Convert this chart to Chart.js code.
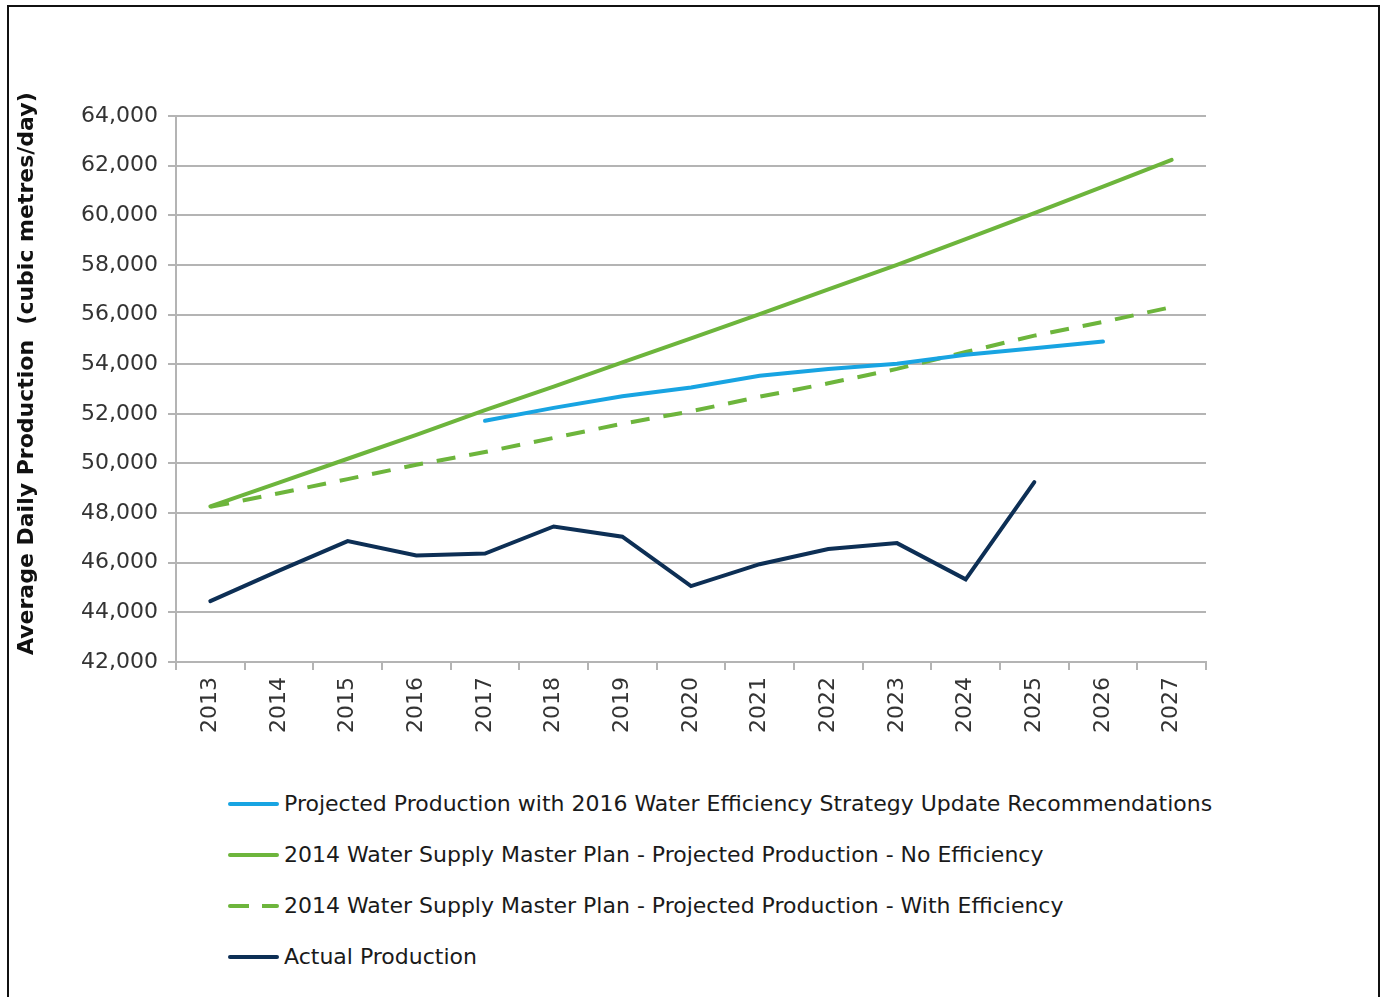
<!DOCTYPE html>
<html>
<head>
<meta charset="utf-8">
<script src="https://cdn.jsdelivr.net/npm/chart.js@4.4.1/dist/chart.umd.min.js"></script>
<style>
    body { margin: 0; background: #fff; overflow: hidden; }
    #frame { position: absolute; left: 7px; top: 5px; width: 1369px; height: 1100px; border: 2px solid #111; }
    #myChart { position: absolute; left: 0; top: 0; }
    #legend { position: absolute; left: 228px; top: 778px; font: 22px 'DejaVu Sans', sans-serif; color: #1a1a1a; }
    .legend-item { height: 51px; display: flex; align-items: center; white-space: nowrap; }
    .legend-line { width: 51px; height: 4px; border-radius: 2px; margin-right: 5px; }
</style>
</head>
<body>
<div id="frame"></div>
<canvas id="myChart" width="1382" height="770"></canvas>
<div id="legend"></div>
<script>
const years = ['2013', '2014', '2015', '2016', '2017', '2018', '2019', '2020', '2021', '2022', '2023', '2024', '2025', '2026', '2027']

const projected2016 = [null, null, null, null, 51720, 52240, 52710, 53060, 53530, 53810, 54020, 54380, 54640, 54910, null]
const noEfficiency = [48270, 49230, 50190, 51150, 52150, 53100, 54070, 55040, 56020, 57010, 58000, 59040, 60090, 61150, 62230]
const withEfficiency = [48250, 48800, 49370, 49950, 50460, 51030, 51600, 52100, 52690, 53230, 53810, 54490, 55150, 55700, 56300]
const actual = [44450, 45680, 46870, 46290, 46370, 47460, 47050, 45060, 45940, 46550, 46790, 45330, 49250, null, null]

const yTicks = { min: 42000, max: 64000, step: 2000 }

const blue = '#18a4e2'
const green = '#6db53c'
const navy = '#0d2f55'
const gridColor = '#b4b4b4'
const fontFamily = 'DejaVu Sans'

const ctx = document.getElementById('myChart')

const chart = new Chart(ctx, {
    type: 'line',
    data: {
        labels: years,
        datasets: [{
            label: 'Projected Production with 2016 Water Efficiency Strategy Update Recommendations',
            data: projected2016,
            borderColor: blue,
            borderWidth: 4,
            borderCapStyle: 'round'
        }, {
            label: '2014 Water Supply Master Plan - Projected Production - No Efficiency',
            data: noEfficiency,
            borderColor: green,
            borderWidth: 4,
            borderCapStyle: 'round'
        }, {
            label: '2014 Water Supply Master Plan - Projected Production - With Efficiency',
            data: withEfficiency,
            borderColor: green,
            borderWidth: 4,
            borderDash: [19, 14]
        }, {
            label: 'Actual Production',
            data: actual,
            borderColor: navy,
            borderWidth: 4,
            borderCapStyle: 'round'
        }]
    },
    options: {
        responsive: false,
        animation: false,
        elements: { point: { radius: 0 }, line: { tension: 0 } },
        layout: { padding: { left: 10, right: 176, top: 116, bottom: 0 } },
        plugins: {
            legend: { display: false },
            tooltip: { enabled: false }
        },
        scales: {
            x: {
                offset: true,
                afterFit: scale => { scale.height = 108 },
                grid: { offset: true, drawOnChartArea: false, tickLength: 8, color: gridColor, lineWidth: 2 },
                border: { color: gridColor, width: 2 },
                ticks: {
                    minRotation: 90,
                    maxRotation: 90,
                    padding: 7,
                    color: '#333',
                    font: { family: fontFamily, size: 22 }
                }
            },
            y: {
                min: yTicks.min,
                max: yTicks.max,
                afterFit: scale => { scale.width = 166 },
                grid: { color: gridColor, lineWidth: 2, tickLength: 8 },
                border: { color: gridColor, width: 2 },
                ticks: {
                    stepSize: yTicks.step,
                    padding: 10,
                    color: '#333',
                    font: { family: fontFamily, size: 22 },
                    callback: value => value.toLocaleString('en-US')
                },
                title: {
                    display: true,
                    // leading spaces nudge the centred title up like the original
                    text: '    Average Daily Production  (cubic metres/day)',
                    color: '#111',
                    font: { family: fontFamily, size: 22, weight: 'bold' },
                    padding: { top: 4, bottom: 4 }
                }
            }
        }
    }
})

// legend built from the datasets, one entry per row like the original
const elLegend = document.getElementById('legend')
chart.data.datasets.forEach(ds => {
    const item = document.createElement('div')
    item.className = 'legend-item'
    const line = document.createElement('span')
    line.className = 'legend-line'
    if (ds.borderDash) line.style.background = `linear-gradient(to right, ${ds.borderColor} 0 21px, transparent 21px 34px, ${ds.borderColor} 34px 51px)`
    else line.style.background = ds.borderColor
    const text = document.createElement('span')
    text.innerText = ds.label
    item.appendChild(line)
    item.appendChild(text)
    elLegend.appendChild(item)
})
</script>
</body>
</html>
